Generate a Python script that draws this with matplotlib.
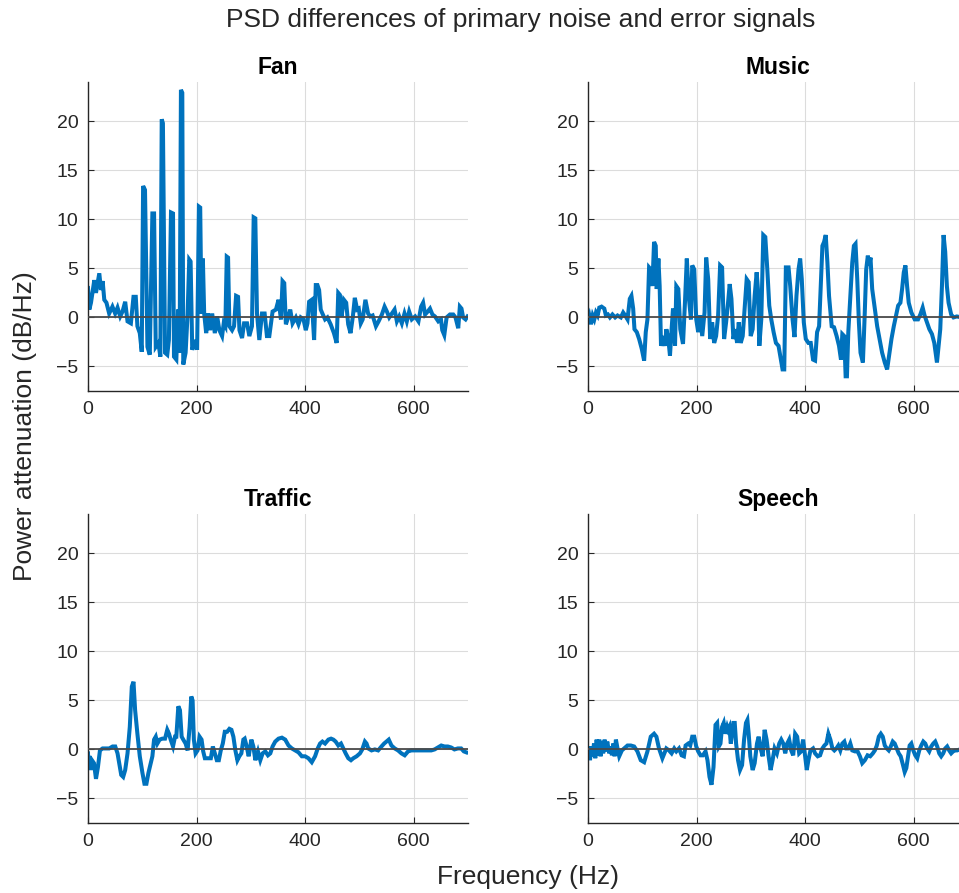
import matplotlib
matplotlib.use("Agg")
import matplotlib.pyplot as plt

plt.rcParams['font.family'] = ['Liberation Sans', 'DejaVu Sans']

titles = ["Fan", "Music", "Traffic", "Speech"]
x_ticks = [0, 200, 400, 600]
y_ticks = [-5, 0, 5, 10, 15, 20]

fan_f = [0, 2.4, 5.5, 11.6, 14.7, 20.8, 23.9, 27, 30, 34, 39, 45, 50, 54.4, 59.3, 63.6, 68.5, 72.8, 79, 83.8, 88, 91,
         95.4, 99, 101.5, 105, 109.5, 113.8, 118.6, 121.7, 124.8, 129.7, 133.3, 135.8, 138, 141.9, 146, 149, 152.9,
         156.6, 158.4, 162.7, 166, 168.8, 171.2, 173.7, 175.5, 179.8, 183.5, 186.5, 189, 192, 198, 201, 204.3, 206.7,
         209, 211.6, 214, 217.7, 221, 225, 228.7, 233.6, 237.9, 242, 247, 250, 253, 255.6, 258, 260.5, 265.4, 269,
         272.8, 276.4, 279, 283.8, 287.5, 293, 297.2, 302, 305.2, 308.2, 311.3, 315.6, 320.5, 325.4, 329.6, 334,
         340, 346.2, 351, 355.4, 358.4, 361.5, 364.5, 369.4, 372.5, 376.8, 382.9, 387.8, 392, 397, 401.2, 404.3,
         407.3, 412.2, 416.5, 419.6, 422.6, 425.7, 428.7, 431.8, 436.7, 441, 447, 453, 458, 461, 464, 467, 471.4,
         475.6, 479.3, 483.6, 487.9, 491.5, 495.8, 498.8, 502.5, 506, 511, 516, 520, 524.3, 530.4, 535.3, 541.4,
         546.3, 550.6, 554.9, 559.8, 564.7, 569, 573.3, 578.1, 583, 587.3, 591.6, 596.5, 602.6, 608.7, 613.6, 617.3,
         621, 625.8, 630, 634.4, 639.2, 645.3, 650.2, 652.6, 656.3, 660.6, 666.7, 672.8, 677, 682, 685, 688, 691,
         695.5, 699]
fan_v = [3.0, 0.8, 1.5, 3.8, 2.5, 4.5, 2.8, 3.7, 1.8, 1.5, 0.4, 1.1, 0.4, 1.0, 0.1, 0.6, 1.6, -0.4, -0.6, 2.1, 2.1, -0.9,
         -1.6, -3.5, 13.4, 13.0, -3.0, -3.8, 10.6, 10.6, -3.0, -2.6, -4.0, 20.2, 19.8, -3.6, -3.8, -2.3, 10.7,
         10.6, -4.0, -4.3, 0.8, -3.6, 23.2, 22.9, -4.8, -3.6, 0.4, 5.9, 5.7, -3.3, -2.3, -3.3, 11.3, 11.2,
         0.4, 6.0, 0.4, -1.6, 0.4, -1.3, 0.4, -1.6, 0.1, -1.3, -1.9, -0.6, -0.9, 6.2, 6.1, -0.9, -1.3, -0.9,
         2.2, 2.1, -1.3, -2.1, -0.6, -0.6, -1.9, -0.9, 10.2, 10.1, 0.4, -2.3, 0.4, 0.4, -1.9, -1.9,
         0.6, 0.8, 1.8, -0.2, 3.7, 3.5, -0.7, 0.1, 0.8, -0.6, 0.0, -0.7, 0.0, -0.2, -1.3, -0.6,
         1.6, 1.8, -2.3, 3.3, 3.3, 2.8, 0.8, 0.4, -0.2, 0.0, -0.7, -1.6, -2.6, 2.5, 2.3, 0.1, 1.8,
         1.5, -0.7, -1.6, 0.1, 2.0, 0.8, 0.9, -0.6, -0.2, 1.8, 0.4, 0.1, 0.2, -0.9, -0.4, 0.3,
         1.1, 0.6, 0.0, 0.4, 0.8, -0.4, 0.1, -0.6, 0.4, -0.4, 0.6, -0.2, 0.1, -0.4, 1.1, 1.5,
         0.3, 0.6, 0.9, 0.3, 0.1, -0.4, -0.2, -1.3, -1.8, 0.0, 0.3, 0.3, 0.0, -1.1, 1.1, 0.9, 0.0,
         -0.2, 0.1]

music_f = [0, 2.4, 5.5, 8.6, 11.6, 14.7, 17.7, 20.8, 25, 30, 33, 36.7, 40.4, 45, 50, 54.4, 60.5, 64.8, 68.5, 72.8, 77,
           80, 83.2, 85.6, 89.9, 94.2, 99, 103.4, 106.4, 109.5, 112.5, 115.6, 118.6, 121.7, 124.8, 126.6, 129.7,
           132, 134.5, 138, 141.9, 144.3, 148, 151, 154, 156.6, 160.3, 162.7, 166.4, 170, 175, 178.6, 182, 186,
           189.6, 192, 195.7, 199.4, 203, 206.7, 210.4, 214.7, 217.7, 221.4, 225, 228.7, 232.4, 236, 239.7, 243.4,
           247, 250.7, 254.4, 258, 261, 264.2, 267.8, 271.5, 274.6, 277.7, 281.3, 285, 288.6, 292.3, 296, 299.7,
           303.3, 307, 310.7, 313, 315.6, 319.2, 322.9, 326.6, 330.3, 333.9, 337.6, 341.9, 346.2, 351, 355.4,
           358.4, 361.5, 364.5, 369.4, 372.5, 376.8, 380.4, 384, 387.8, 390.8, 393.8, 397.5, 401.2, 406, 410.3,
           414.6, 418.3, 422, 425.7, 428.7, 431.8, 434.9, 437.9, 441, 444, 448.9, 453.2, 458, 462.4, 466, 468.5,
           472, 474.6, 477, 479.5, 483, 486.8, 489.8, 492.8, 496, 499, 502, 506.4, 509.4, 512.5, 515.5, 518,
           520.4, 523.5, 528.4, 532.7, 537, 541.8, 546.7, 551, 555.4, 559, 563.3, 567.6, 571.3, 575.5, 578.6,
           581.7, 584.7, 587.8, 590.8, 595.7, 601.8, 608, 612.2, 616.5, 620, 624.5, 628.8, 633.6, 637.9, 642.8,
           645.9, 648.9, 652, 655, 658, 661.1, 664.2, 669, 673.3, 679.4, 688, 700]
music_v = [-0.2, 0.2, -0.7, 0.2, -0.2, 0.5, 0.2, 1.0, 1.1, 0.9, 0.2, 0.3, 0.0, 0.3, 0.0, 0.2, 0.0, 0.5, 0.2, -0.2, 1.9,
           2.2, 0.9, -1.2, -1.5, -2.2, -3.2, -4.4, -1.5, -0.2, 5.1, 4.9, 3.2, 7.7, 7.3, 2.9, 6.0,
           3.2, -2.9, -1.9, -2.9, -1.2, -2.2, -3.9, -1.2, 0.9, -2.9, 3.2, 2.9, -1.2, -2.7, 1.5, 6.0, 1.9,
           -0.2, 5.3, 4.9, -0.2, -1.5, 0.2, -1.9, 0.5, 6.1, 3.9, -2.2, -0.5, -2.6, -1.9, 0.2, 5.3,
           5.1, -2.2, -0.5, 1.5, 3.4, 1.9, -2.2, -1.2, -2.6, -0.5, -2.6, -1.9, 0.9, 3.9, 3.6, -1.9,
           -1.2, 2.2, 4.6, 2.9, -2.9, -0.2, 8.4, 8.2, 4.9, 1.2, -0.2, -1.5, -2.6, -2.9, -4.3,
           -5.3, -5.3, 5.1, 5.1, 3.2, -0.2, -2.0, 2.2, 4.9, 6.0, 3.9, -0.5, -2.2, -2.6, -2.6,
           -4.3, -4.4, -1.5, -0.9, 3.2, 7.3, 7.7, 8.4, 5.6, 2.2, -0.9, -1.0, -1.9, -2.9, -4.3, -1.7,
           -1.9, -6.0, -6.0, -1.5, 1.9, 5.6, 7.3, 7.5, 3.9, -0.5, -3.6, -4.6, -0.2, 4.9, 6.3, 5.3,
           6.1, 2.9, 0.9, -0.9, -2.2, -3.6, -4.6, -5.3, -3.6, -2.2, -0.9, 0.2, 1.2, 1.5, 2.9,
           4.6, 5.3, 3.2, 1.5, 0.5, -0.2, -0.2, 0.3, 1.0, 0.2, -0.5, -1.2, -1.7, -2.6, -4.6,
           -2.9, -1.2, 3.2, 8.4, 6.7, 3.2, 1.5, 0.3, 0.0, 0.1, 0.0, 0.1]

traffic_f = [0, 0.5, 2.4, 4.9, 7.3, 11, 14.7, 18.3, 22, 26.9, 33, 39.1, 45.3, 50.2, 54.4, 57.5, 61.2, 64.8, 68.5, 72.8,
             77, 80.7, 83.8, 86.8, 91, 95.4, 100.3, 104, 107.6, 111.3, 115.6, 118.6, 121.7, 124.8, 127.8, 132,
             137, 141.9, 146, 149.2, 152.3, 156.6, 160.3, 162.7, 166.4, 169.4, 172.5, 175.5, 179.8, 183.5, 187.2,
             190.2, 192.7, 195, 198.2, 201.8, 205.5, 209.2, 212.2, 215.3, 221.4, 226.3, 230, 233.6, 237.3, 241,
             244.6, 248.3, 252, 256.3, 260.5, 264.2, 267.8, 271.5, 275.2, 278.8, 282.5, 286.2, 288.6, 292.3, 296,
             300.9, 304.6, 308.3, 313.1, 317.4, 321.7, 326.6, 331.5, 335.8, 340, 344.9, 351, 357.2, 363.3, 369.4,
             375.5, 381.6, 387.8, 393.9, 400, 406, 412.2, 418.3, 423.2, 427.5, 431.8, 436.7, 442.8, 447.7, 452,
             456.2, 461.1, 466, 470.3, 474.6, 479.5, 484.4, 488.7, 494.8, 501, 505.2, 510.1, 513.1, 516.2, 522.3,
             528.4, 534.5, 540.6, 545.5, 549.8, 554, 559, 565, 571.2, 577.3, 583.4, 589.6, 595.7, 601.8, 607.9,
             614, 620, 626.3, 632.4, 638.5, 644.6, 650.7, 656.8, 662.9, 669, 675, 681.3, 687.4, 692.3, 697]
traffic_v = [-0.4, -1.8, -0.7, -2.1, -1.1, -1.4, -3.0, -1.8, -0.1, 0.1, 0.1, 0.1, 0.3, 0.3, -0.4, -1.4, -2.6, -2.8,
             -2.1, -0.4, 2.3, 6.4, 6.9, 4.0, 1.6, -0.7, -2.4, -3.5, -3.5, -2.4, -1.4, -0.7, 1.0, 1.3, 0.6, 1.0,
             1.1, 1.1, 2.0, 1.6, 1.0, 0.3, 1.3, 1.3, 4.4, 4.0, 1.3, 1.0, 0.6, -0.1, 2.3,
             5.4, 5.0, 1.0, -0.4, -0.1, 1.3, 1.0, -0.2, -0.9, -0.9, -0.9, 0.3, -0.4, -1.1, -1.1,
             -0.1, 0.6, 1.8, 1.8, 2.1, 2.0, 1.3, -0.1, -1.1, -0.7, -0.4, 1.0, 1.1, 0.3, -0.7,
             1.0, 0.3, -1.1, -0.2, -1.1, -0.4, -0.2, -0.6, -0.4, 0.3, 0.8, 1.1, 1.2, 1.0, 0.4,
             0.1, -0.1, -0.3, -0.7, -0.7, -0.9, -1.3, -0.7, 0.1, 0.6, 0.8, 0.6, 1.0, 1.1, 1.0,
             0.8, 0.4, 0.6, 0.1, -0.4, -0.9, -1.1, -0.9, -0.7, -0.4, 0.0, 0.8, 0.6, 0.1, -0.1,
             0.0, -0.1, 0.3, 0.6, 0.8, 1.0, 0.4, 0.1, -0.1, -0.4, -0.6, -0.2, -0.1, -0.1, -0.1,
             -0.1, -0.1, -0.1, -0.1, 0.0, 0.2, 0.4, 0.3, 0.3, 0.2, 0.0, 0.1, 0.1, -0.2, -0.3]

speech_f = [0, 1.2, 3.7, 6.1, 8.6, 11, 13.4, 15.9, 18.3, 20.8, 23.2, 25.7, 28, 30.6, 33, 35.5, 39.1, 42.2, 44, 46.5, 49,
            51.4, 54.4, 57.5, 62.4, 66.6, 72.8, 78.9, 85, 91, 97.2, 103.4, 109.5, 115.6, 121.7, 126, 130.8, 137,
            140.6, 144.3, 149.2, 154, 158.9, 162.7, 167.6, 172.5, 176.7, 179.8, 184.7, 188.3, 192, 195.7, 199.4,
            203, 207.3, 211.6, 216.5, 220.1, 223.8, 227.5, 231.2, 234.9, 237.9, 241, 244, 247, 250, 253, 256.3,
            258, 260.5, 263, 265.4, 267.8, 270.3, 272.8, 276.4, 280, 283.8, 287.5, 291, 293.6, 296, 299, 303.3,
            307, 311.3, 314.4, 318, 321.7, 325.4, 329, 332.7, 336.4, 340, 343.7, 348, 352.3, 356, 359.7, 363.3,
            367, 370.6, 374.3, 378, 381.6, 385.3, 389, 392.6, 396.3, 400, 403, 406, 409.8, 414.6, 418.3, 423.2,
            427.5, 431.8, 435.5, 439.2, 442.8, 446.5, 450.2, 453.8, 457.5, 461.1, 464.8, 468.5, 472.2, 475.8,
            479.5, 483.2, 486.8, 491.7, 496.6, 500.9, 505.2, 510, 515, 519.9, 524.7, 528.4, 532, 535.7, 539.4,
            543, 546.7, 550.4, 554, 557.7, 561.4, 565, 568.7, 572.4, 576, 580.3, 583.4, 586.4, 589.5, 592.5,
            595.6, 599.2, 602.9, 606.5, 610.2, 613.9, 617.6, 621.3, 624.9, 628.6, 632.3, 636, 639.6, 643.3, 647,
            650.6, 654.3, 658, 661.6, 665.3, 669, 672.6, 676.3, 680, 690, 700]
speech_v = [-0.7, 0.3, -1.1, 0.3, -0.7, 0.6, -0.9, 1.0, -0.6, 1.0, -0.7, 0.8, -0.4, 1.0, -0.2, 0.8, -0.4, 0.3, -0.6,
            0.6, -0.7, 1.0, 0.1, -0.7, -0.1, 0.1, 0.4, 0.4, 0.3, -0.2, -1.1, -1.3, -0.2, 1.3, 1.6, 1.3, 0.1, -0.9,
            -0.4, 0.1, -0.1, -0.4, 0.1, -0.2, 0.1, -0.6, -0.7, 0.4, 0.6, 0.4, 1.3, 1.3, 0.3,
            -0.2, -0.6, -0.6, -0.2, -1.1, -2.8, -3.6, -1.8, 2.5, 2.7, 0.3, 0.6, 2.3, 2.7, 1.6, 2.3,
            2.0, 2.3, 0.6, 1.6, 2.7, 2.7, 0.6, -1.1, -2.1, -1.6, 1.0, 2.7, 3.0, 1.6, -0.7, -2.1,
            -1.4, 0.6, 1.3, 0.1, -0.7, 2.0, 1.0, -0.7, -2.1, -1.1, 0.1, -0.4, 0.6, 1.0, 0.6, -0.4,
            0.6, 1.0, -0.1, -0.6, 1.6, 1.3, -0.4, -0.2, 1.0, -0.7, -2.1, -1.1, -0.1, 0.1, -0.4, -0.7,
            -0.6, 0.1, 0.4, 0.6, 1.6, 1.0, 0.1, -0.1, 0.1, 0.4, -0.1, 0.6, 0.8, 0.1,
            0.1, 0.6, -0.1, -0.2, -0.2, -0.7, -1.4, -1.1, -0.6, -0.7, -0.4, -0.1, 0.4, 1.3, 1.6,
            1.3, 0.4, 0.1, -0.1, 0.3, 0.8, 0.6, 0.1, -0.4, -0.7, -1.6, -2.3, -1.9, -0.7, 0.4,
            0.6, -0.1, -0.6, -0.9, -0.1, 0.4, 0.8, 0.6, 0.1, -0.2, 0.3, 0.6, 0.8, 0.3, -0.4,
            -0.7, -0.4, 0.1, 0.3, -0.1, -0.4, -0.2, -0.1, -0.1, 0.1, 0.0]

series = [(fan_f, fan_v), (music_f, music_v), (traffic_f, traffic_v), (speech_f, speech_v)]

W, H = 959, 893
fig = plt.figure(figsize=(W / 100, H / 100), dpi=100)

ax_w = 380
ax_h = 309
lefts = [88, 588, 88, 588]
tops = [82, 82, 514, 514]

line_color = '#0072BD'
dark = '#262626'

for i in range(4):
    l, t = lefts[i], tops[i]
    ax = fig.add_axes([l / W, 1 - (t + ax_h) / H, ax_w / W, ax_h / H])
    f, v = series[i]
    ax.plot(f, v, color=line_color, lw=2.9, zorder=2, solid_joinstyle='miter')
    ax.axhline(0, color='#4a4a4a', lw=1.3, zorder=3)
    ax.set_xlim(0, 700)
    ax.set_ylim(-7.5, 24)
    ax.set_xticks(x_ticks)
    ax.set_yticks(y_ticks)
    ax.grid(True, color='#dcdcdc', lw=0.8)
    ax.set_axisbelow(True)
    for s in ['top', 'right']:
        ax.spines[s].set_visible(False)
    for s in ['left', 'bottom']:
        ax.spines[s].set_color(dark)
        ax.spines[s].set_linewidth(1.0)
    ax.tick_params(direction='in', length=4, width=0.8, colors=dark, labelsize=14, pad=7,
                   labelcolor=dark)
    ax.set_title(titles[i], fontsize=16.5, fontweight='bold', color='black', pad=6)

fig.text(521 / W, 1 - 20 / H, "PSD differences of primary noise and error signals", ha='center', va='center',
         fontsize=19, color=dark)
fig.text(528 / W, 1 - 877 / H, "Frequency (Hz)", ha='center', va='center', fontsize=19, color=dark)
fig.text(25 / W, 1 - 426 / H, "Power attenuation (dB/Hz)", ha='center', va='center', rotation=90,
         fontsize=19, color=dark)

fig.savefig("out.png", dpi=100, facecolor='white')
